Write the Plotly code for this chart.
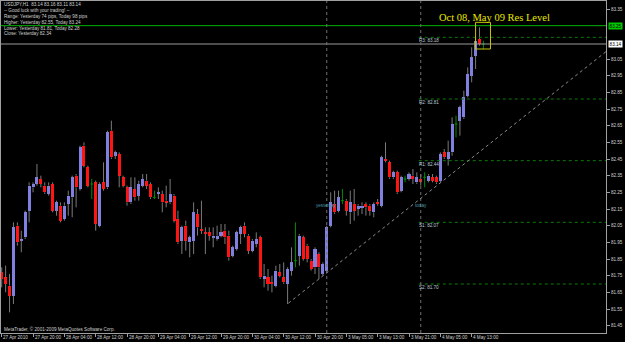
import plotly.graph_objects as go

# ---------------- data (USDJPY, H1) ----------------
opens = [81.77,81.74,81.69,81.63,82.05,81.96,81.98,82.14,82.28,82.30,
         82.33,82.29,82.24,82.30,82.14,82.17,82.09,82.18,82.22,82.35,
         82.27,82.53,82.40,82.30,82.31,82.05,82.31,82.28,82.62,82.47,
         82.48,82.34,82.28,82.19,82.27,82.23,82.29,82.32,82.30,82.22,
         82.24,82.24,82.20,82.19,82.23,82.09,81.96,82.05,81.95,81.96,
         82.12,82.03,82.01,82.01,81.98,81.97,81.99,82.02,81.99,81.87,
         81.91,82.00,82.05,81.99,81.90,81.94,81.98,81.73,81.74,81.71,
         81.69,81.77,81.74,81.70,81.78,81.84,81.87,81.98,81.93,81.84,
         81.80,81.88,81.76,81.78,82.05,82.18,82.14,82.20,82.20,82.13,
         82.18,82.15,82.16,82.18,82.17,82.13,82.19,82.17,82.45,82.43,
         82.34,82.37,82.26,82.33,82.33,82.35,82.31,82.33,82.34,82.32,
         82.34,82.34,82.32,82.49,82.45,82.49,82.66,82.68,82.70,82.83,
         82.95,83.07,83.17,83.14]
highs = [81.80,81.81,81.76,82.07,82.07,82.02,82.14,82.31,82.31,82.42,
         82.35,82.31,82.31,82.31,82.20,82.19,82.19,82.26,82.35,82.36,
         82.53,82.55,82.41,82.33,82.32,82.31,82.43,82.62,82.68,82.50,
         82.49,82.35,82.29,82.34,82.34,82.32,82.36,82.36,82.31,82.26,
         82.28,82.26,82.29,82.33,82.24,82.14,82.05,82.08,81.99,82.19,
         82.15,82.20,82.04,82.04,82.04,82.05,82.06,82.06,82.02,81.93,
         82.02,82.05,82.07,82.00,81.97,82.01,81.99,81.82,81.79,81.75,
         81.81,81.82,81.83,81.80,81.92,82.07,82.00,81.99,81.94,81.85,
         81.92,81.89,81.83,82.05,82.25,82.26,82.26,82.27,82.21,82.26,
         82.27,82.18,82.19,82.19,82.18,82.19,82.21,82.47,82.55,82.44,
         82.38,82.38,82.35,82.35,82.37,82.39,82.37,82.36,82.37,82.36,
         82.36,82.35,82.49,82.51,82.56,82.70,82.71,82.77,82.86,83.00,
         83.12,83.18,83.24,83.16]
lows = [81.68,81.65,81.53,81.58,81.93,81.89,81.97,82.07,82.25,82.29,
        82.28,82.24,82.23,82.13,82.11,82.07,82.08,82.11,82.10,82.16,
        82.26,82.40,82.28,82.21,82.02,82.04,82.26,82.27,82.45,82.45,
        82.28,82.28,82.17,82.18,82.20,82.20,82.28,82.27,82.21,82.21,
        82.21,82.13,82.16,82.18,82.07,81.94,81.88,81.90,81.86,81.88,
        81.99,82.00,81.88,81.96,81.92,81.96,81.98,81.94,81.84,81.86,
        81.90,81.94,81.98,81.88,81.89,81.92,81.73,81.68,81.66,81.65,
        81.68,81.74,81.70,81.58,81.75,81.80,81.81,81.84,81.83,81.78,
        81.76,81.73,81.75,81.77,82.04,82.12,82.13,82.18,82.11,82.06,
        82.08,82.11,82.12,82.11,82.11,82.10,82.17,82.16,82.43,82.33,
        82.33,82.24,82.25,82.31,82.32,82.30,82.30,82.29,82.28,82.31,
        82.31,82.30,82.31,82.45,82.41,82.47,82.58,82.59,82.69,82.82,
        82.91,82.99,83.13,83.11]
closes = [81.73,81.70,81.63,82.04,81.95,81.97,82.13,82.29,82.30,82.34,
          82.30,82.25,82.29,82.14,82.19,82.08,82.17,82.23,82.34,82.28,
          82.52,82.41,82.29,82.30,82.06,82.30,82.27,82.61,82.46,82.49,
          82.35,82.29,82.19,82.28,82.22,82.30,82.33,82.29,82.22,82.22,
          82.25,82.19,82.19,82.24,82.08,81.95,82.04,81.96,81.98,82.13,
          82.04,82.02,82.00,81.99,81.99,81.99,82.01,81.98,81.86,81.92,
          82.01,82.04,82.00,81.90,81.96,81.97,81.74,81.75,81.70,81.70,
          81.78,81.75,81.71,81.79,81.83,81.84,81.99,81.85,81.85,81.79,
          81.91,81.80,81.82,82.04,82.19,82.13,82.22,82.20,82.14,82.19,
          82.14,82.17,82.17,82.16,82.14,82.18,82.18,82.46,82.44,82.34,
          82.37,82.25,82.34,82.33,82.36,82.33,82.34,82.31,82.34,82.35,
          82.32,82.31,82.48,82.46,82.49,82.66,82.66,82.76,82.82,82.96,
          83.06,83.16,83.14,83.14]

tick_bars = [0, 8, 16, 24, 32, 40, 48, 56, 64, 72, 80, 88, 96, 104, 112, 120]
tick_labels = ["27 Apr 2010", "27 Apr 20:00", "28 Apr 04:00", "28 Apr 12:00",
               "28 Apr 20:00", "29 Apr 04:00", "29 Apr 12:00", "29 Apr 20:00",
               "30 Apr 04:00", "30 Apr 12:00", "30 Apr 20:00", "3 May 05:00",
               "3 May 13:00", "3 May 21:00", "4 May 05:00", "4 May 13:00"]

price_ticks = [83.35, 83.05, 82.95, 82.85, 82.75, 82.65, 82.55, 82.45, 82.35,
               82.25, 82.15, 82.05, 81.95, 81.85, 81.75, 81.65, 81.55, 81.45]

pivot_names = ["R3", "R2", "R1", "S1", "S2"]
pivot_levels = [83.18, 82.81, 82.44, 82.07, 81.70]
res_level = 83.25
bid = 83.14
yesterday_bar = 83
today_bar = 107
trend_start = (73.2, 81.585)
trend_end = (154.3, 83.094)
box_bars = (121.0, 124.8)
box_prices = (83.11, 83.27)

header_lines = ["USDJPY,H1  83.14 83.16 83.11 83.14",
                "-- Good luck with your trading! --",
                "Range: Yesterday 74 pips, Today 98 pips",
                "Higher: Yesterday 82.55, Today 83.24",
                "Lower: Yesterday 81.81, Today 82.28",
                "Close: Yesterday 82.34"]

# ---------------- styling ----------------
W, H = 625, 342
L_M, R_M, T_M, B_M = 1, 19, 1, 9
PW = W - L_M - R_M
PH = H - T_M - B_M
XR = [-0.18, 154.3]
YR = [81.406, 83.398]
BULL = "#8080e0"
BEAR = "#ff1414"
WICK = "#7a7a7a"
DOJI = "#008c00"
FONT = "Liberation Sans"
SMALL = 4.6
TXT = "#d0d0d0"

def ppx(px):
    return (px - L_M) / PW

def ppy(py):
    return (H - B_M - py) / PH

n = len(opens)
xs = list(range(n))

fig = go.Figure()

# wicks (drawn outside the bodies so they never cross them)
wx, wy, dx, dy = [], [], [], []
for i in xs:
    o, c = opens[i], closes[i]
    if o == c:
        dx += [i, i, None, i - 0.38, i + 0.38, None]
        dy += [lows[i], highs[i], None, o, o, None]
    else:
        lo_b, hi_b = min(o, c), max(o, c)
        wx += [i, i, None, i, i, None]
        wy += [lows[i], lo_b, None, hi_b, highs[i], None]
fig.add_trace(go.Scatter(x=wx, y=wy, mode="lines", line=dict(color=WICK, width=1),
                         hoverinfo="skip", showlegend=False))
fig.add_trace(go.Scatter(x=dx, y=dy, mode="lines", line=dict(color=DOJI, width=1),
                         hoverinfo="skip", showlegend=False))

# bodies
for bull, col in ((True, BULL), (False, BEAR)):
    bx, base, hgt = [], [], []
    for i in xs:
        o, c = opens[i], closes[i]
        if o == c or (c > o) != bull:
            continue
        bx.append(i)
        base.append(min(o, c))
        hgt.append(abs(c - o))
    fig.add_trace(go.Bar(x=bx, y=hgt, base=base, width=0.78,
                         marker=dict(color=col, line=dict(width=0)),
                         showlegend=False, hoverinfo="skip"))

shapes = []
shapes.append(dict(type="line", xref="paper", x0=0, x1=1, yref="y", y0=res_level, y1=res_level,
                   line=dict(color="#00b400", width=1)))
shapes.append(dict(type="line", xref="paper", x0=0, x1=1, yref="y", y0=bid, y1=bid,
                   line=dict(color="#9a9a9a", width=1)))
for lv in pivot_levels:
    shapes.append(dict(type="line", xref="x", x0=today_bar - 0.5, x1=XR[1], yref="y", y0=lv, y1=lv,
                       line=dict(color="#0a7a0a", width=1, dash="dot")))
for b in (yesterday_bar, today_bar):
    shapes.append(dict(type="line", xref="x", x0=b, x1=b, yref="paper", y0=0, y1=1,
                       line=dict(color="#707070", width=1, dash="dot")))
shapes.append(dict(type="line", xref="x", yref="y", x0=trend_start[0], y0=trend_start[1],
                   x1=trend_end[0], y1=trend_end[1],
                   line=dict(color="#8c8c8c", width=1, dash="dot")))
shapes.append(dict(type="rect", xref="x", yref="y", x0=box_bars[0], x1=box_bars[1],
                   y0=box_prices[0], y1=box_prices[1],
                   line=dict(color="#c8c800", width=1), fillcolor="rgba(0,0,0,0)"))

ann = []
small = dict(family=FONT, size=SMALL, color=TXT)
for k, line in enumerate(header_lines):
    ann.append(dict(xref="paper", yref="paper", x=ppx(3), y=ppy(4.8 + 5.8 * k),
                    xanchor="left", yanchor="middle", text=line, showarrow=False,
                    font=small, borderpad=0))
ann.append(dict(xref="paper", yref="paper", x=ppx(3), y=ppy(329),
                xanchor="left", yanchor="middle",
                text="MetaTrader, © 2001-2009 MetaQuotes Software Corp.",
                showarrow=False, font=small, borderpad=0))
ann.append(dict(xref="paper", yref="paper", x=ppx(494), y=ppy(17), xanchor="center",
                yanchor="middle", text="Oct 08, May 09 Res Level", showarrow=False,
                font=dict(family="Liberation Serif", size=10.5, color="#e8e800")))
for nm, lv in zip(pivot_names, pivot_levels):
    ann.append(dict(xref="x", yref="y", x=today_bar - 0.8, y=lv, xanchor="left", yanchor="top",
                    text=f"{nm}: {lv:.2f}", showarrow=False, borderpad=0,
                    font=dict(family=FONT, size=SMALL, color="#b8c8d8")))
for b, t in ((yesterday_bar, "yesterday"), (today_bar, "today")):
    ann.append(dict(xref="x", yref="y", x=b, y=82.174, xanchor="center", yanchor="middle",
                    text=t, showarrow=False, borderpad=0,
                    font=dict(family=FONT, size=SMALL, color="#4f98a8")))
for b, t in zip(tick_bars, tick_labels):
    ann.append(dict(xref="x", yref="paper", x=b, y=ppy(337.6), xanchor="left", yanchor="middle",
                    xshift=0.6, text=t, showarrow=False, borderpad=0, font=small))
for lv, bg in ((res_level, "#00c800"), (bid, "#ffffff")):
    ann.append(dict(xref="paper", yref="y", x=1, y=lv, xanchor="left", yanchor="middle",
                    xshift=2, text=f"{lv:.2f}", showarrow=False, bgcolor=bg, borderpad=0.6,
                    font=dict(family=FONT, size=SMALL, color="#000000")))

fig.update_layout(
    width=W, height=H, margin=dict(l=L_M, r=R_M, t=T_M, b=B_M, pad=0),
    paper_bgcolor="#000000", plot_bgcolor="#000000",
    barmode="overlay", bargap=0, showlegend=False,
    shapes=shapes, annotations=ann,
    xaxis=dict(range=XR, showgrid=False, zeroline=False, tickvals=tick_bars,
               showticklabels=False, ticks="outside", ticklen=3, tickcolor="#a0a0a0",
               showline=True, mirror=True, linecolor="#a0a0a0", linewidth=1, fixedrange=True),
    yaxis=dict(range=YR, side="right", showgrid=False, zeroline=False, tickvals=price_ticks,
               ticktext=[f"{v:.2f}" for v in price_ticks], ticks="outside", ticklen=3,
               tickcolor="#a0a0a0", tickfont=dict(family=FONT, size=SMALL, color=TXT),
               showline=True, mirror=True, linecolor="#a0a0a0", linewidth=1, fixedrange=True),
)

fig.write_html("out.html")
